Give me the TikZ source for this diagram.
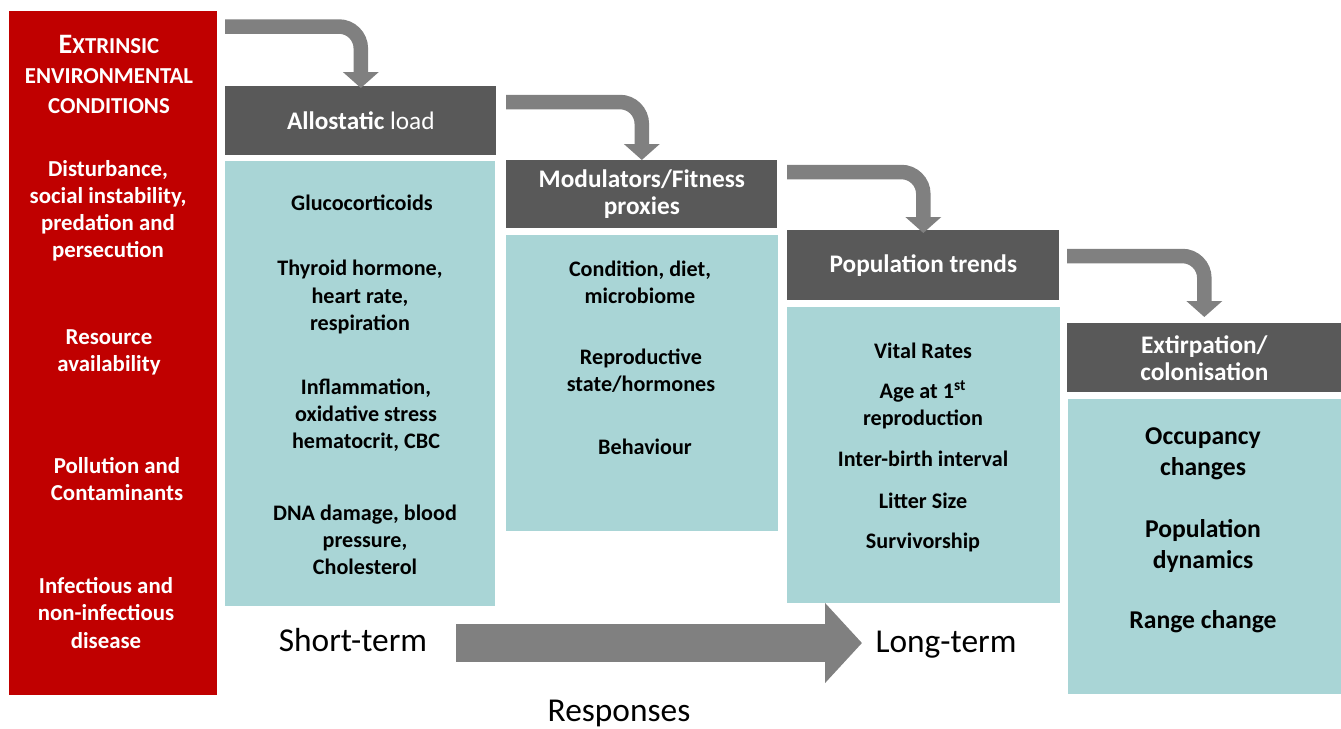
\documentclass[tikz,border=0pt]{standalone}
\usepackage{fontspec}
\setmainfont{Carlito}
\usepackage{tikz}
\usetikzlibrary{arrows.meta}
\usetikzlibrary{positioning}

\definecolor{envred}{HTML}{C00000}
\definecolor{headgrey}{HTML}{595959}
\definecolor{bodyteal}{HTML}{A9D5D6}
\definecolor{arrowgrey}{HTML}{808080}

\tikzset{
  envbox/.style={fill=envred, anchor=north west, inner sep=0pt},
  envtext/.style={text=white, font=\bfseries\fontsize{13}{15.4}\selectfont, align=center},
  headbox/.style={fill=headgrey, text=white, anchor=north west, inner sep=0pt, align=center,
    font=\bfseries\fontsize{14.4}{15.4}\selectfont},
  bodybox/.style={fill=bodyteal, anchor=north west, inner sep=0pt},
  bodytext/.style={font=\bfseries\fontsize{12.6}{15.4}\selectfont, align=center},
  bigtext/.style={font=\bfseries\fontsize{14.6}{17.6}\selectfont, align=center},
  termtext/.style={font=\fontsize{19}{22}\selectfont},
  bendarrow/.style={draw=arrowgrey, line width=0.29cm, rounded corners=0.44cm,
    -{Triangle[width=0.7cm,length=0.32cm]}},
  bigarrow/.style={draw=arrowgrey, line width=0.76cm,
    -{Triangle[width=1.56cm,length=0.74cm]}}
}

\begin{document}
\begin{tikzpicture}[x=0.02cm,y=-0.02cm]
\useasboundingbox (0,0) rectangle (1341,728);

% extrinsic conditions
\node[envbox, minimum width=4.16cm, minimum height=13.68cm] (env) at (9,11) {};
\node[envtext, font=\bfseries\fontsize{13}{17.1}\selectfont] (envtitle) at (109,74.5)
  {{\fontsize{16}{17.1}\selectfont E}XTRINSIC\\ENVIRONMENTAL\\CONDITIONS};
\node[envtext] (disturb) at (108,210.5) {Disturbance,\\social instability,\\predation and\\persecution};
\node[envtext] (resource) at (109,352.5) {Resource\\availability};
\node[envtext] (pollution) at (117,479.5) {Pollution and\\Contaminants};
\node[envtext] (disease) at (106,613) {Infectious and\\non-infectious\\disease};

% headers
\node[headbox, minimum width=5.42cm, minimum height=1.38cm] (allo) at (225,86)
  {Allostatic {\mdseries load}};
\node[headbox, minimum width=5.42cm, minimum height=1.36cm] (modu) at (506,160)
  {Modulators/Fitness\\proxies};
\node[headbox, minimum width=5.44cm, minimum height=1.40cm] (popt) at (787,230)
  {Population trends};
\node[headbox, minimum width=5.48cm, minimum height=1.38cm] (extir) at (1067,323)
  {Extirpation/\\colonisation};

% bodies
\node[bodybox, minimum width=5.40cm, minimum height=8.90cm] (allobody) at (225,161) {};
\node[bodybox, minimum width=5.44cm, minimum height=5.92cm] (modubody) at (506,235) {};
\node[bodybox, minimum width=5.46cm, minimum height=5.92cm] (poptbody) at (787,307) {};
\node[bodybox, minimum width=5.46cm, minimum height=5.90cm] (extirbody) at (1068,399) {};

\node[bodytext] (gluco) at (362,203) {Glucocorticoids};
\node[bodytext] (thyroid) at (360,297) {Thyroid hormone,\\heart rate,\\respiration};
\node[bodytext] (inflam) at (366,415) {Inflammation,\\oxidative stress\\hematocrit, CBC};
\node[bodytext] (dna) at (365,540) {DNA damage, blood\\pressure,\\Cholesterol};

\node[bodytext] (cond) at (640,282) {Condition, diet,\\microbiome};
\node[bodytext] (repro) at (641,371) {Reproductive\\state/hormones};
\node[bodytext] (behav) at (645,447) {Behaviour};

\node[bodytext] (vital) at (923,351) {Vital Rates};
\node[bodytext] (agefirst) at (923,405) {Age at 1\textsuperscript{st}\\reproduction};
\node[bodytext] (interbirth) at (923,459) {Inter-birth interval};
\node[bodytext] (litter) at (923,501) {Litter Size};
\node[bodytext] (surv) at (923,542) {Survivorship};

\node[bigtext] (occup) at (1203,454) {Occupancy\\changes};
\node[bigtext] (popdyn) at (1203,546) {Population\\dynamics};
\node[bigtext] (range) at (1203,622) {Range change};

% bent arrows
\coordinate (a1) at (225,26.5);
\coordinate (a2) at (506,102);
\coordinate (a3) at (787,172);
\coordinate (a4) at (1067,256);
\draw[bendarrow] (a1) -| ([yshift=-0.04cm]allo.north);
\draw[bendarrow] (a2) -| (modu.north);
\draw[bendarrow] (a3) -| ([yshift=-0.06cm]popt.north);
\draw[bendarrow] (a4) -| ([yshift=0.12cm]extir.north);

% time axis
\node[termtext] (short) at (353,640) {Short-term};
\node[termtext] (long) at (946,645) {Long-term};
\node[termtext] (resp) at (619,713) {Responses};
\coordinate (axs) at (456,643);
\coordinate (axe) at (862,643);
\draw[bigarrow] (axs) -- (axe);
\end{tikzpicture}
\end{document}
